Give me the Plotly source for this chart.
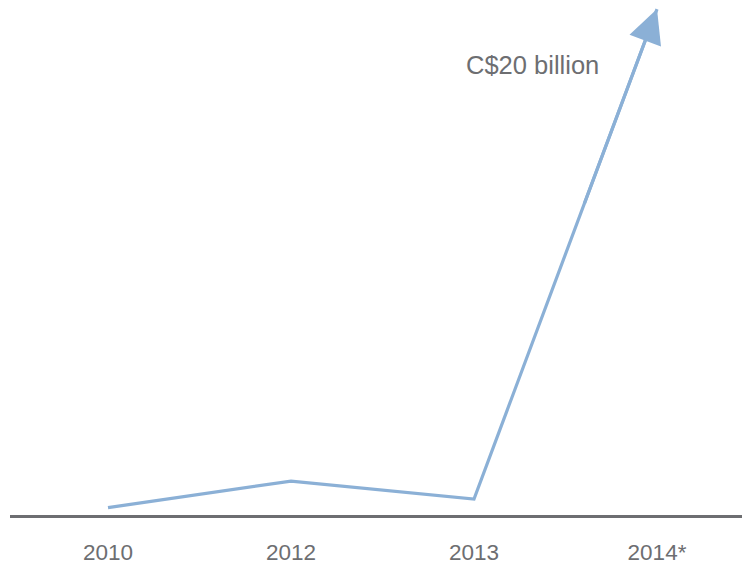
import plotly.graph_objects as go

years = ["2010", "2012", "2013", "2014*"]
values = [0.29, 1.34, 0.63, 20.0]   # C$ billion
label_text = "C$20 billion"

xpos = list(range(len(years)))
line_color = "#8BB0D6"
grey = "#6D6E71"

fig = go.Figure()
fig.add_trace(go.Scatter(
    x=xpos, y=values, mode="lines",
    line=dict(color=line_color, width=3.2),
    hoverinfo="skip", showlegend=False,
))

# arrowhead at the final point
fig.add_annotation(
    x=xpos[-1], y=values[-1], xref="x", yref="y",
    ax=xpos[-2] + 0.6 * (xpos[-1] - xpos[-2]), ay=values[-2] + 0.6 * (values[-1] - values[-2]),
    axref="x", ayref="y",
    showarrow=True, arrowhead=2, arrowsize=2.1, arrowwidth=3.2,
    arrowcolor=line_color, text="",
)

fig.add_annotation(
    x=2.32, y=17.78, xref="x", yref="y", text=label_text, showarrow=False,
    font=dict(family="Liberation Sans, Arial, sans-serif", size=25.5, color=grey),
)

fig.update_layout(
    width=742, height=564,
    margin=dict(l=10, r=0, t=0, b=49),
    paper_bgcolor="white", plot_bgcolor="white",
    xaxis=dict(
        range=[-0.5355, 3.4645], tickmode="array", tickvals=xpos, ticktext=years,
        showgrid=False, zeroline=False, showline=True, linecolor=grey, linewidth=3,
        ticks="", ticklabelstandoff=15,
        tickfont=dict(family="Liberation Sans, Arial, sans-serif", size=22.5, color=grey),
        fixedrange=True,
    ),
    yaxis=dict(
        range=[0, 20.36], visible=False, showgrid=False, zeroline=False, fixedrange=True,
    ),
)

fig.write_html("out.html")
